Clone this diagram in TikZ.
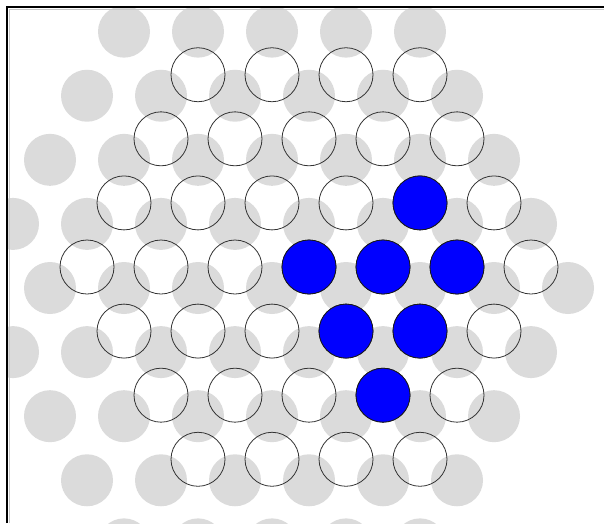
\documentclass[tikz,border=0pt]{standalone}
\tikzset{
  graydisc/.style={fill=black!14},
  ring/.style={circle, draw=black!80, line width=0.8pt, minimum size=54pt, inner sep=0pt, outer sep=0pt},
  bluedisc/.style={ring, fill=blue, draw=black!90},
  framebar/.style={line width=2pt, draw=black},
  frameinner/.style={line width=0.8pt, draw=black!22}
}
\begin{document}
\begin{tikzpicture}[x=1pt,y=-1pt]
\useasboundingbox (0,0) rectangle (604,523);
% background lattice of grey discs, clipped to the frame
\begin{scope}
  \clip (8,8) rectangle (604,523);
  \foreach \i in {-4,...,4}{
    \pgfmathtruncatemacro\n{9-abs(\i)}
    \foreach \k in {1,...,\n}{
      \fill[graydisc] ({272+(\k-1-(\n-1)/2)*74}, {288+\i*64.09}) circle (26pt);
    }
  }
\end{scope}
% open rings
\foreach \i in {-3,...,3}{
  \pgfmathtruncatemacro\n{7-abs(\i)}
  \foreach \k in {1,...,\n}{
    \node[ring] (o\i-\k) at ({309+(\k-1-(\n-1)/2)*74}, {267+\i*64.09}) {};
  }
}
% blue discs
\node[bluedisc] (b1) at (420, 202.91) {};
\node[bluedisc] (b2) at (309, 267) {};
\node[bluedisc] (b3) at (383, 267) {};
\node[bluedisc] (b4) at (457, 267) {};
\node[bluedisc] (b5) at (346, 331.09) {};
\node[bluedisc] (b6) at (420, 331.09) {};
\node[bluedisc] (b7) at (383, 395.18) {};
% frame
\coordinate (fbl) at (7,523);
\coordinate (ftl) at (7,7);
\coordinate (ftr) at (604,7);
\coordinate (ibl) at (9,523);
\coordinate (itl) at (9,9);
\coordinate (itr) at (604,9);
\draw[frameinner] (ibl) -- (itl) -- (itr);
\draw[framebar] (fbl) -- (ftl) -- (ftr);
\end{tikzpicture}
\end{document}
